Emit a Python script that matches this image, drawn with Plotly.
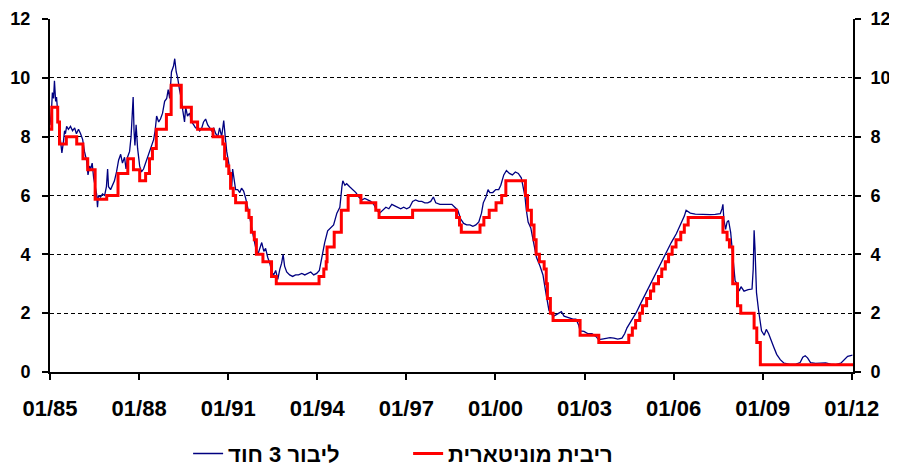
import plotly.graph_objects as go

# ---- data (decimal years) ----
libor_t = [1985.00,1985.05,1985.08,1985.12,1985.15,1985.19,1985.22,1985.25,1985.29,1985.32,1985.35,1985.40,1985.45,1985.49,1985.52,1985.56,1985.62,1985.69,1985.76,1985.83,1985.89,1985.96,
           1986.03,1986.10,1986.16,1986.23,1986.28,1986.33,1986.37,1986.42,1986.47,1986.52,1986.57,1986.60,1986.63,1986.70,1986.77,1986.84,1986.90,1986.94,1986.97,
           1987.04,1987.11,1987.17,1987.24,1987.31,1987.38,1987.44,1987.51,1987.56,1987.61,1987.68,1987.73,1987.76,1987.80,1987.83,1987.86,1987.90,1987.95,
           1988.02,1988.08,1988.15,1988.22,1988.29,1988.35,1988.42,1988.49,1988.54,1988.59,1988.66,1988.72,1988.79,1988.86,1988.93,1988.98,
           1989.03,1989.09,1989.16,1989.20,1989.25,1989.30,1989.36,1989.42,1989.47,1989.53,1989.57,1989.63,1989.70,1989.77,1989.84,1989.90,1989.97,
           1990.04,1990.11,1990.17,1990.24,1990.31,1990.38,1990.44,1990.51,1990.58,1990.65,1990.71,1990.78,1990.85,1990.90,1990.95,
           1991.02,1991.08,1991.12,1991.15,1991.20,1991.25,1991.32,1991.39,1991.45,1991.52,1991.59,1991.66,1991.72,1991.79,1991.86,1991.93,
           1992.00,1992.06,1992.13,1992.20,1992.26,1992.33,1992.40,1992.47,1992.53,1992.60,1992.67,1992.74,1992.80,1992.85,1992.90,1992.97,
           1993.07,1993.17,1993.27,1993.37,1993.48,1993.58,1993.68,1993.78,1993.88,1993.98,
           1994.07,1994.15,1994.25,1994.35,1994.45,1994.55,1994.66,1994.76,1994.83,1994.86,1994.93,1994.99,
           1995.09,1995.20,1995.30,1995.40,1995.50,1995.60,1995.70,1995.80,1995.90,
           1996.00,1996.10,1996.20,1996.31,1996.41,1996.51,1996.61,1996.71,1996.81,1996.91,
           1997.01,1997.11,1997.21,1997.31,1997.42,1997.52,1997.62,1997.72,1997.82,1997.91,1997.99,
           1998.13,1998.26,1998.40,1998.53,1998.63,1998.73,1998.83,1998.93,
           1999.03,1999.14,1999.24,1999.34,1999.44,1999.53,1999.59,1999.68,1999.75,1999.81,1999.91,
           2000.01,2000.11,2000.18,2000.28,2000.37,2000.47,2000.57,2000.67,2000.77,2000.87,2000.94,2000.99,
           2001.04,2001.10,2001.19,2001.28,2001.38,2001.50,2001.60,2001.68,2001.73,2001.80,2001.89,2001.97,
           2002.05,2002.14,2002.22,2002.31,2002.41,2002.51,2002.61,2002.71,2002.80,2002.85,2002.98,
           2003.12,2003.25,2003.39,2003.47,2003.59,2003.72,2003.86,2003.99,
           2004.12,2004.26,2004.35,2004.43,2004.56,2004.73,2004.90,
           2005.07,2005.24,2005.41,2005.58,2005.75,2005.92,
           2006.09,2006.26,2006.36,2006.42,2006.56,2006.73,2006.89,
           2007.06,2007.23,2007.40,2007.57,2007.63,2007.66,2007.69,2007.75,2007.80,2007.85,2007.92,2007.97,
           2008.02,2008.07,2008.14,2008.21,2008.27,2008.37,2008.51,2008.64,2008.68,2008.71,2008.74,2008.79,2008.86,2008.91,2008.96,
           2009.05,2009.12,2009.20,2009.28,2009.37,2009.47,2009.59,2009.72,2009.92,
           2010.12,2010.26,2010.35,2010.43,2010.51,2010.61,2010.78,2010.95,
           2011.12,2011.29,2011.46,2011.63,2011.76,2011.86,2011.96,2012.02]
libor_v = [8.4,8.9,9.5,9.3,9.9,9.2,9.35,8.9,8.5,8.0,7.9,7.45,7.8,8.2,8.1,8.35,8.25,8.35,8.2,8.3,8.1,8.25,
           8.1,7.9,7.5,7.2,6.7,7.0,6.9,7.1,6.6,6.3,6.05,5.6,6.0,5.95,6.05,6.0,6.3,6.9,6.3,
           6.2,6.4,6.5,6.8,7.2,7.4,7.1,7.3,6.9,7.3,7.5,8.0,8.7,9.35,8.2,7.7,8.4,7.6,
           7.0,6.8,6.9,7.1,7.3,7.5,7.7,7.9,8.2,8.7,8.5,8.6,8.8,9.2,9.3,9.6,
           9.3,10.2,10.4,10.65,10.2,10.0,9.6,9.3,8.9,8.5,9.0,8.7,8.8,8.5,8.4,8.3,8.3,
           8.2,8.3,8.5,8.6,8.4,8.3,8.2,8.3,8.1,8.0,8.3,8.0,8.55,8.0,7.5,
           7.1,6.6,6.3,6.9,6.5,6.2,6.2,6.1,6.25,6.15,5.9,5.6,5.3,4.9,4.5,4.2,
           4.0,4.2,4.4,4.1,4.2,3.9,3.7,3.4,3.3,3.45,3.15,3.5,3.7,4.0,3.6,3.4,
           3.3,3.25,3.3,3.3,3.35,3.3,3.35,3.4,3.3,3.35,
           3.45,3.9,4.4,4.8,4.9,5.0,5.4,5.6,6.3,6.5,6.35,6.4,
           6.3,6.2,6.1,5.95,5.85,5.9,5.85,5.8,5.7,
           5.5,5.4,5.5,5.6,5.55,5.7,5.65,5.6,5.55,5.6,
           5.55,5.6,5.8,5.85,5.8,5.8,5.75,5.75,5.8,5.95,5.75,
           5.7,5.7,5.7,5.7,5.6,5.5,5.2,5.05,
           5.0,5.0,4.95,5.0,5.1,5.4,5.75,5.95,6.2,6.1,6.1,
           6.2,6.2,6.35,6.7,6.85,6.75,6.7,6.8,6.75,6.6,6.3,6.0,
           5.5,5.1,4.9,4.4,3.9,3.6,3.3,2.8,2.5,2.1,1.95,1.9,
           1.95,2.0,2.05,1.9,1.87,1.85,1.8,1.8,1.6,1.4,1.38,
           1.3,1.3,1.2,1.1,1.12,1.15,1.17,1.15,
           1.12,1.15,1.3,1.5,1.72,2.0,2.35,
           2.7,3.0,3.35,3.7,4.05,4.4,
           4.7,5.05,5.3,5.5,5.4,5.37,5.36,
           5.36,5.35,5.36,5.38,5.55,5.7,5.2,4.85,5.1,5.15,4.75,4.2,
           3.4,3.1,3.0,2.75,2.9,2.75,2.8,2.82,3.5,4.82,4.2,2.7,2.1,1.7,1.4,
           1.25,1.45,1.3,1.05,0.85,0.6,0.42,0.3,0.26,
           0.27,0.32,0.5,0.55,0.48,0.32,0.29,0.3,
           0.31,0.27,0.25,0.3,0.42,0.53,0.56,0.57]

policy_t = [1985.00,1985.06,1985.26,1985.32,1985.55,1985.90,1986.11,1986.27,1986.52,1986.91,
            1987.29,1987.62,1987.81,1988.02,1988.22,1988.35,1988.45,1988.58,1988.92,1989.08,
            1989.42,1989.76,1989.97,1990.49,1990.82,1990.88,1990.95,1991.02,1991.08,1991.17,
            1991.25,1991.61,1991.70,1991.78,1991.88,1991.95,1992.17,1992.46,1992.62,1994.06,
            1994.22,1994.30,1994.33,1994.57,1994.81,1995.04,1995.47,1995.97,1996.08,1997.21,
            1998.69,1998.79,1998.85,1999.48,1999.61,1999.79,2000.02,2000.21,2000.35,2001.01,
            2001.08,2001.21,2001.30,2001.37,2001.48,2001.64,2001.71,2001.75,2001.85,2001.94,
            2002.85,2003.48,2004.49,2004.61,2004.72,2004.86,2004.95,2005.09,2005.22,2005.33,
            2005.49,2005.60,2005.72,2005.83,2005.95,2006.08,2006.24,2006.36,2006.49,2007.66,
            2007.80,2007.88,2007.99,2008.15,2008.26,2008.71,2008.80,2008.92,2012.04]
policy_v = [8.25,9.0,8.5,7.75,8.0,7.75,7.25,6.875,5.875,6.0,
            6.75,7.25,6.875,6.5,6.75,7.25,7.6,8.25,8.75,9.75,
            9.0,8.5,8.25,8.0,7.75,7.25,7.0,6.75,6.25,6.0,
            5.75,5.5,5.25,4.75,4.5,4.0,3.75,3.25,3.0,3.25,
            3.5,3.75,4.25,4.75,5.5,6.0,5.75,5.5,5.25,5.5,
            5.25,5.0,4.75,5.0,5.25,5.5,5.75,6.0,6.5,6.0,
            5.5,5.0,4.5,4.0,3.75,3.5,3.0,2.5,2.0,1.75,
            1.25,1.0,1.25,1.5,1.75,2.0,2.25,2.5,2.75,3.0,
            3.25,3.5,3.75,4.0,4.25,4.5,4.75,5.0,5.25,4.75,
            4.5,4.25,3.0,2.25,2.0,1.5,1.0,0.25,0.25]

x_tickvals = [1985, 1988, 1991, 1994, 1997, 2000, 2003, 2006, 2009, 2012]
x_ticktext = ["01/85", "01/88", "01/91", "01/94", "01/97", "01/00", "01/03", "01/06", "01/09", "01/12"]
y_tickvals = [0, 2, 4, 6, 8, 10, 12]

name_libor = "ליבור 3 חוד"
name_policy = "ריבית מוניטארית"

FONT = "Liberation Sans, Arial, sans-serif"

fig = go.Figure()
fig.add_trace(go.Scatter(x=libor_t, y=libor_v, mode="lines", name=name_libor,
                         line=dict(color="#000080", width=1.3)))
fig.add_trace(go.Scatter(x=policy_t, y=policy_v, mode="lines", name=name_policy,
                         line=dict(color="#FF0000", width=3, shape="hv")))
# invisible trace to activate right axis
fig.add_trace(go.Scatter(x=[1985, 2012], y=[0, 12], yaxis="y2", mode="lines",
                         line=dict(width=0), opacity=0, showlegend=False, hoverinfo="skip"))

ytickfont = dict(family=FONT, size=18, color="black", weight="bold")
xtickfont = dict(family=FONT, size=22, color="black", weight="bold")

# page body has an 8px margin, so the figure is 8px smaller than the window on each axis
fig.update_layout(
    width=889, height=460,
    margin=dict(l=42, r=44, t=11, b=96, autoexpand=False),
    paper_bgcolor="white", plot_bgcolor="white",
    showlegend=True,
    legend=dict(orientation="h", x=0.172, xanchor="left", y=-0.172, yanchor="top",
                font=dict(family=FONT, size=22, color="black", weight="bold"),
                entrywidth=175, entrywidthmode="pixels",
                bgcolor="rgba(0,0,0,0)"),
    xaxis=dict(range=[1985, 2012.04], tickvals=x_tickvals, ticktext=x_ticktext,
               tickfont=xtickfont, ticks="outside", ticklen=6, tickwidth=1.5, tickcolor="black",
               showline=True, linecolor="black", linewidth=2, showgrid=False, zeroline=False,
               ticklabelstandoff=10, automargin=False),
    yaxis=dict(range=[0, 12], tickvals=y_tickvals, tickfont=ytickfont, ticks="outside",
               ticklen=6, tickwidth=1.5, tickcolor="black",
               showline=True, linecolor="black", linewidth=2,
               showgrid=True, gridcolor="black", gridwidth=1, griddash="4px,3px",
               zeroline=False, ticklabelstandoff=8, automargin=False),
    yaxis2=dict(range=[0, 12], tickvals=y_tickvals, tickfont=ytickfont, ticks="outside",
                ticklen=6, tickwidth=1.5, tickcolor="black", overlaying="y", side="right",
                showline=True, linecolor="black", linewidth=2, showgrid=False, zeroline=False,
                ticklabelstandoff=6, automargin=False),
)

fig.write_html("out.html")
